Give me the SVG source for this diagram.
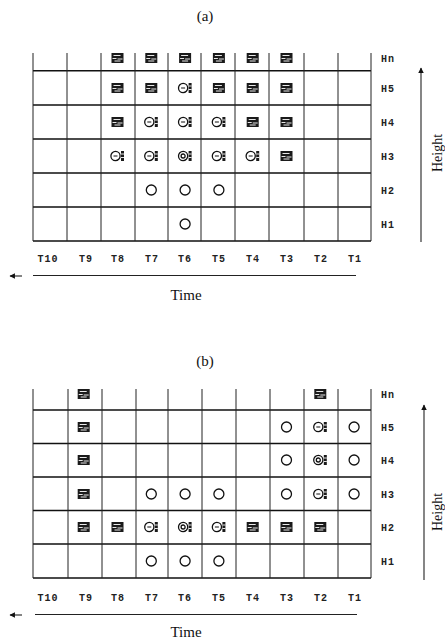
<svg xmlns="http://www.w3.org/2000/svg" xmlns:xlink="http://www.w3.org/1999/xlink" width="445" height="641" viewBox="0 0 445 641">
<style>
.hl{stroke:#111;stroke-width:1.5;fill:none}
.vl{stroke:#222;stroke-width:1;fill:none}
.ax{stroke:#222;stroke-width:1.1;fill:none}
.lb{font-family:"Liberation Mono",monospace;font-size:10px;font-weight:bold;fill:#222;letter-spacing:1px}
.tt{font-family:"Liberation Serif",serif;font-size:15px;fill:#111}
.ht{font-family:"Liberation Serif",serif;font-size:14px;fill:#111}
.o{fill:none;stroke:#111;stroke-width:1.3}
</style>
<defs>
<g id="blk">
<rect x="-6" y="-5" width="12" height="10" fill="#1a1a1a"/>
<path d="M-4 -2.5h7M-5 0.5h4M0 1h5M-3 3h6" stroke="#fff" stroke-width="0.9" fill="none"/>
</g>
<g id="ci">
<circle cx="-2" cy="0" r="4.6" class="o"/>
<path d="M-4 0h4" stroke="#111" stroke-width="1"/>
<rect x="3.5" y="-5" width="3" height="10" fill="#1a1a1a"/>
<path d="M3.5 -2h3M3.5 1.5h3" stroke="#fff" stroke-width="0.9"/>
</g>
<g id="dci">
<circle cx="-2" cy="0" r="4.6" class="o"/>
<circle cx="-2" cy="0" r="2" class="o" stroke-width="1"/>
<rect x="3.5" y="-5" width="3" height="10" fill="#1a1a1a"/>
<path d="M3.5 -2h3M3.5 1.5h3" stroke="#fff" stroke-width="0.9"/>
</g>
<g id="o"><circle cx="0" cy="0" r="5" class="o"/></g>
<marker id="ah" viewBox="0 0 10 10" refX="9" refY="5" markerWidth="5" markerHeight="5" orient="auto"><path d="M10 5L0 0L0 10z" fill="#111"/></marker>
</defs>

<text class="tt" x="205" y="21" text-anchor="middle">(a)</text>
<g id="gridA">
<path class="hl" d="M33 70.7H371M33 105H371M33 139H371M33 173H371M33 207H371M33 241H371"/>
<path class="vl" d="M33 53V241M67 53V241M101 53V241M135 53V241M168 53V241M201 53V241M235 53V241M269 53V241M304 53V241M338 53V241M371 53V241"/>
</g>
<g id="cellsA">
<use xlink:href="#blk" x="117.5" y="58"/><use xlink:href="#blk" x="151.3" y="58"/><use xlink:href="#blk" x="185.1" y="58"/><use xlink:href="#blk" x="218.9" y="58"/><use xlink:href="#blk" x="252.7" y="58"/><use xlink:href="#blk" x="286.5" y="58"/>
<use xlink:href="#blk" x="117.5" y="88"/><use xlink:href="#blk" x="151.3" y="88"/><use xlink:href="#ci" x="185.1" y="88"/><use xlink:href="#blk" x="218.9" y="88"/><use xlink:href="#blk" x="252.7" y="88"/><use xlink:href="#blk" x="286.5" y="88"/>
<use xlink:href="#blk" x="117.5" y="122"/><use xlink:href="#ci" x="151.3" y="122"/><use xlink:href="#ci" x="185.1" y="122"/><use xlink:href="#ci" x="218.9" y="122"/><use xlink:href="#blk" x="252.7" y="122"/><use xlink:href="#blk" x="286.5" y="122"/>
<use xlink:href="#ci" x="117.5" y="156"/><use xlink:href="#ci" x="151.3" y="156"/><use xlink:href="#dci" x="185.1" y="156"/><use xlink:href="#ci" x="218.9" y="156"/><use xlink:href="#ci" x="252.7" y="156"/><use xlink:href="#blk" x="286.5" y="156"/>
<use xlink:href="#o" x="151.3" y="190"/><use xlink:href="#o" x="185.1" y="190"/><use xlink:href="#o" x="218.9" y="190"/>
<use xlink:href="#o" x="185.1" y="224"/>
</g>
<g id="labelsA">
<text class="lb" x="381" y="62">Hn</text><text class="lb" x="381" y="92">H5</text><text class="lb" x="381" y="126">H4</text><text class="lb" x="381" y="160">H3</text><text class="lb" x="381" y="194">H2</text><text class="lb" x="381" y="228">H1</text>
<g text-anchor="middle">
<text class="lb" x="48" y="262">T10</text><text class="lb" x="86" y="262">T9</text><text class="lb" x="118" y="262">T8</text><text class="lb" x="152" y="262">T7</text><text class="lb" x="185" y="262">T6</text><text class="lb" x="219" y="262">T5</text><text class="lb" x="253" y="262">T4</text><text class="lb" x="287" y="262">T3</text><text class="lb" x="321" y="262">T2</text><text class="lb" x="355" y="262">T1</text>
</g>
<text class="tt" x="186" y="300" text-anchor="middle">Time</text>
<text class="ht" x="0" y="0" text-anchor="middle" transform="translate(442 153) rotate(-90)">Height</text>
</g>
<g id="axesA">
<path class="ax" d="M33 275.5H356"/>
<path class="ax" d="M22 276H10" marker-end="url(#ah)"/>
<path class="ax" d="M421 242V68" marker-end="url(#ah)"/>
</g>

<text class="tt" x="205" y="366" text-anchor="middle">(b)</text>
<g id="gridB">
<path class="hl" d="M33 410H371M33 443.5H371M33 477H371M33 510.5H371M33 544H371M33 578H371"/>
<path class="vl" d="M33 389V578M68 389V578M102 389V578M136 389V578M168 389V578M202 389V578M236 389V578M270 389V578M304 389V578M338 389V578M371 389V578"/>
</g>
<g id="cellsB">
<use xlink:href="#blk" x="83.7" y="394"/><use xlink:href="#blk" x="320.3" y="394"/>
<use xlink:href="#blk" x="83.7" y="427"/><use xlink:href="#o" x="286.5" y="427"/><use xlink:href="#ci" x="320.3" y="427"/><use xlink:href="#o" x="354.1" y="427"/>
<use xlink:href="#blk" x="83.7" y="460"/><use xlink:href="#o" x="286.5" y="460"/><use xlink:href="#dci" x="320.3" y="460"/><use xlink:href="#o" x="354.1" y="460"/>
<use xlink:href="#blk" x="83.7" y="494"/><use xlink:href="#o" x="151.3" y="494"/><use xlink:href="#o" x="185.1" y="494"/><use xlink:href="#o" x="218.9" y="494"/><use xlink:href="#o" x="286.5" y="494"/><use xlink:href="#ci" x="320.3" y="494"/><use xlink:href="#o" x="354.1" y="494"/>
<use xlink:href="#blk" x="83.7" y="527"/><use xlink:href="#blk" x="117.5" y="527"/><use xlink:href="#ci" x="151.3" y="527"/><use xlink:href="#dci" x="185.1" y="527"/><use xlink:href="#ci" x="218.9" y="527"/><use xlink:href="#blk" x="252.7" y="527"/><use xlink:href="#blk" x="286.5" y="527"/><use xlink:href="#blk" x="320.3" y="527"/>
<use xlink:href="#o" x="151.3" y="561"/><use xlink:href="#o" x="185.1" y="561"/><use xlink:href="#o" x="218.9" y="561"/>
</g>
<g id="labelsB">
<text class="lb" x="381" y="398">Hn</text><text class="lb" x="381" y="431">H5</text><text class="lb" x="381" y="464">H4</text><text class="lb" x="381" y="498">H3</text><text class="lb" x="381" y="531">H2</text><text class="lb" x="381" y="565">H1</text>
<g text-anchor="middle">
<text class="lb" x="48" y="601">T10</text><text class="lb" x="86" y="601">T9</text><text class="lb" x="118" y="601">T8</text><text class="lb" x="152" y="601">T7</text><text class="lb" x="185" y="601">T6</text><text class="lb" x="219" y="601">T5</text><text class="lb" x="253" y="601">T4</text><text class="lb" x="287" y="601">T3</text><text class="lb" x="321" y="601">T2</text><text class="lb" x="355" y="601">T1</text>
</g>
<text class="tt" x="186" y="637" text-anchor="middle">Time</text>
<text class="ht" x="0" y="0" text-anchor="middle" transform="translate(442 512) rotate(-90)">Height</text>
</g>
<g id="axesB">
<path class="ax" d="M35 614.5H357"/>
<path class="ax" d="M22 615H10" marker-end="url(#ah)"/>
<path class="ax" d="M424 580V405" marker-end="url(#ah)"/>
</g>
</svg>
